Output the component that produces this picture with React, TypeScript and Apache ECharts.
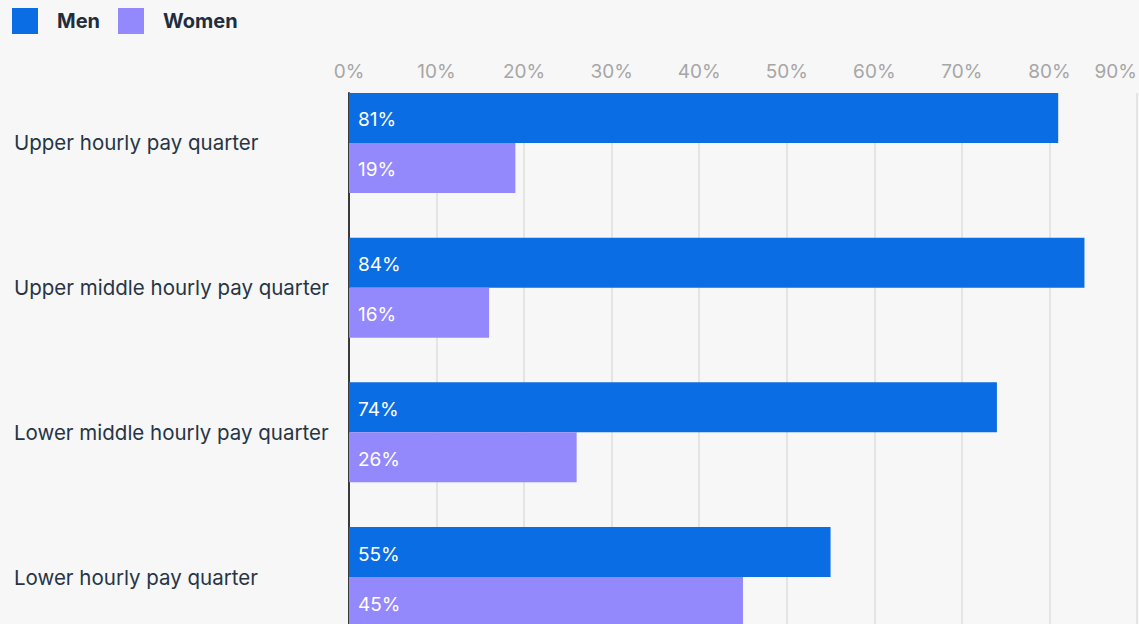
import React, { useEffect, useRef } from "react";
import * as echarts from "echarts";

const categories = [
  "Upper hourly pay quarter",
  "Upper middle hourly pay quarter",
  "Lower middle hourly pay quarter",
  "Lower hourly pay quarter",
];
const men = [81, 84, 74, 55];
const women = [19, 16, 26, 45];
const spacer = [0, 0, 0, 0];
const xTicks = { min: 0, max: 90, interval: 10 };

const FONT = "Inter, 'Noto Sans', sans-serif";

export default function App() {
  const ref = useRef<HTMLDivElement>(null);
  useEffect(() => {
    if (!ref.current) return;
    const chart = echarts.init(ref.current, undefined, { renderer: "svg" });
    const barLabel = {
      show: true,
      position: "insideLeft",
      distance: 9,
      offset: [0, 2],
      color: "#ffffff",
      fontSize: 19,
      fontFamily: FONT,
      formatter: (p: any) => `${p.value}%`,
    };
    chart.setOption({
      animation: false,
      backgroundColor: "#f7f7f7",
      textStyle: { fontFamily: FONT },
      legend: {
        data: ["Men", "Women"],
        left: 12,
        top: 8,
        padding: 0,
        icon: "rect",
        itemWidth: 26,
        itemHeight: 26,
        itemGap: 18,
        textStyle: {
          fontSize: 20,
          fontWeight: "bold",
          color: "#1f2d3d",
          fontFamily: FONT,
          padding: [0, 0, 0, 14],
        },
      },
      grid: {
        left: 349,
        top: 93,
        width: 788,
        height: 578.7,
        containLabel: false,
        outerBoundsMode: "none",
      },
      xAxis: {
        type: "value",
        position: "top",
        min: xTicks.min,
        max: xTicks.max,
        interval: xTicks.interval,
        axisLine: { show: false },
        axisTick: { show: false },
        axisLabel: {
          formatter: "{value}%",
          color: "#a6a6a6",
          fontSize: 19,
          fontFamily: FONT,
          margin: 12,
          alignMaxLabel: "right",
        },
        splitLine: { show: true, lineStyle: { color: "#e4e4e4", width: 2 } },
      },
      yAxis: {
        type: "category",
        inverse: true,
        data: categories,
        axisLine: { show: true, lineStyle: { color: "#3a3a3a", width: 2 } },
        axisTick: { show: false },
        axisLabel: {
          align: "left",
          margin: 335,
          formatter: (v: string) => `{t|${v}}\n{s| }`,
          rich: {
            t: {
              fontSize: 20.5,
              lineHeight: 24,
              color: "#263545",
              fontFamily: FONT,
            },
            s: { fontSize: 2, lineHeight: 44.7 },
          },
        },
      },
      series: [
        {
          name: "Men",
          type: "bar",
          data: men,
          barWidth: 50,
          barGap: 0,
          itemStyle: { color: "#0b6de4" },
          label: barLabel,
        },
        {
          name: "Women",
          type: "bar",
          data: women,
          barWidth: 50,
          barGap: 0,
          itemStyle: { color: "#9488fd" },
          label: barLabel,
        },
        {
          name: "spacer",
          type: "bar",
          data: spacer,
          barWidth: 44.7,
          barGap: 0,
          silent: true,
          itemStyle: { color: "transparent" },
          label: { show: false },
        },
      ],
    });
    return () => chart.dispose();
  }, []);
  return (
    <div
      ref={ref}
      style={{ position: "fixed", left: 0, top: 0, width: 1139, height: 624 }}
    />
  );
}
